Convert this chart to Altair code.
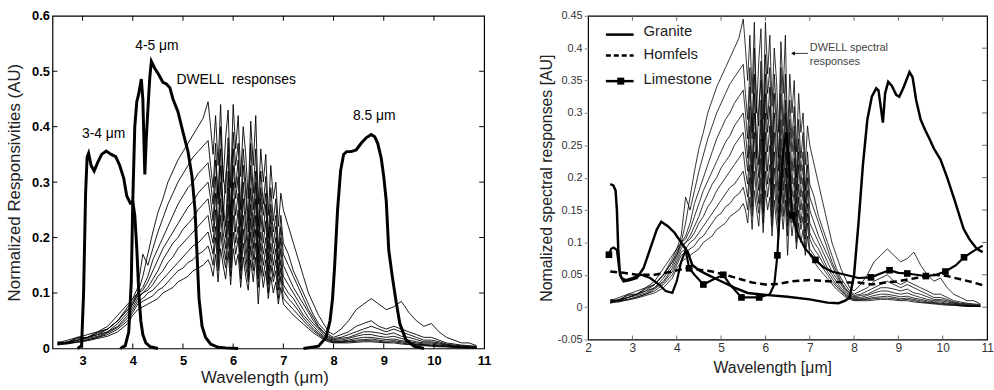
import altair as alt
import pandas as pd

FONT = "Liberation Sans"

# ---------------- DWELL spectral responses (shared by both panels) ----------------
DWELL_X = ([2.5, 2.7, 2.9, 3.1, 3.3, 3.5, 3.7, 3.9]
           + [4.0, 4.1, 4.2, 4.3, 4.4, 4.5, 4.6, 4.7, 4.8, 4.9, 5.0, 5.1, 5.2, 5.3, 5.4, 5.5]
           + [5.55, 5.6, 5.65, 5.7, 5.75, 5.8, 5.85, 5.9, 5.95, 6.0, 6.05, 6.1, 6.15, 6.2, 6.25,
              6.3, 6.35, 6.4, 6.45, 6.5, 6.55, 6.6, 6.65, 6.7, 6.75, 6.8, 6.85, 6.9, 6.95, 7.0]
           + [7.1, 7.2, 7.3, 7.4, 7.5, 7.6, 7.7, 7.8, 7.9, 8.0]
           + [8.15, 8.3, 8.45, 8.6, 8.75, 8.9, 9.05, 9.2, 9.35, 9.5, 9.65, 9.8, 9.95, 10.1,
              10.25, 10.4, 10.55, 10.7, 10.85])

DWELL_1 = ([0.01, 0.015, 0.02, 0.025, 0.03, 0.035, 0.05, 0.07]
           + [0.08, 0.1, 0.13, 0.17, 0.21, 0.245, 0.27, 0.3, 0.32, 0.34, 0.355, 0.37, 0.385, 0.4, 0.415, 0.445]
           + [0.40, 0.35, 0.42, 0.33, 0.44, 0.30, 0.38, 0.43, 0.29, 0.44, 0.36, 0.42, 0.31, 0.40, 0.35,
              0.27, 0.41, 0.33, 0.42, 0.26, 0.36, 0.30, 0.35, 0.24, 0.33, 0.27, 0.30, 0.22, 0.28, 0.25]
           + [0.22, 0.19, 0.16, 0.13, 0.10, 0.08, 0.06, 0.045, 0.03, 0.025]
           + [0.035, 0.05, 0.07, 0.08, 0.09, 0.08, 0.07, 0.075, 0.085, 0.065, 0.05, 0.04, 0.045, 0.03,
              0.02, 0.015, 0.01, 0.01, 0.005])
DWELL_2 = ([0.012, 0.01, 0.02, 0.02, 0.03, 0.04, 0.06, 0.08]
           + [0.09, 0.11, 0.17, 0.15, 0.18, 0.21, 0.235, 0.26, 0.28, 0.30, 0.315, 0.33, 0.345, 0.355, 0.365, 0.375]
           + [0.33, 0.29, 0.37, 0.26, 0.40, 0.31, 0.28, 0.38, 0.24, 0.39, 0.33, 0.37, 0.25, 0.36, 0.30,
              0.23, 0.37, 0.28, 0.36, 0.22, 0.32, 0.26, 0.31, 0.20, 0.29, 0.23, 0.27, 0.18, 0.24, 0.19]
           + [0.17, 0.14, 0.12, 0.10, 0.08, 0.06, 0.045, 0.035, 0.025, 0.02]
           + [0.025, 0.03, 0.04, 0.045, 0.05, 0.04, 0.035, 0.04, 0.035, 0.03, 0.025, 0.02, 0.02, 0.015,
              0.01, 0.008, 0.006, 0.005, 0.004])
DWELL_3 = ([0.008, 0.012, 0.018, 0.02, 0.028, 0.035, 0.05, 0.075]
           + [0.09, 0.10, 0.11, 0.13, 0.16, 0.18, 0.20, 0.22, 0.24, 0.26, 0.275, 0.29, 0.30, 0.315, 0.325, 0.335]
           + [0.30, 0.26, 0.34, 0.27, 0.36, 0.23, 0.31, 0.35, 0.22, 0.36, 0.29, 0.34, 0.22, 0.33, 0.28,
              0.21, 0.33, 0.25, 0.32, 0.20, 0.29, 0.24, 0.28, 0.18, 0.26, 0.21, 0.24, 0.16, 0.22, 0.17]
           + [0.15, 0.13, 0.11, 0.09, 0.07, 0.055, 0.04, 0.03, 0.022, 0.018]
           + [0.02, 0.025, 0.03, 0.035, 0.04, 0.035, 0.03, 0.035, 0.03, 0.025, 0.02, 0.015, 0.015, 0.012,
              0.008, 0.006, 0.005, 0.004, 0.003])
DWELL_4 = ([0.01, 0.01, 0.015, 0.02, 0.025, 0.035, 0.05, 0.07]
           + [0.085, 0.10, 0.105, 0.12, 0.14, 0.16, 0.18, 0.195, 0.21, 0.225, 0.24, 0.255, 0.265, 0.28, 0.29, 0.30]
           + [0.27, 0.23, 0.31, 0.21, 0.33, 0.26, 0.22, 0.32, 0.20, 0.33, 0.27, 0.31, 0.19, 0.30, 0.24,
              0.18, 0.29, 0.22, 0.30, 0.17, 0.27, 0.21, 0.26, 0.16, 0.24, 0.19, 0.22, 0.14, 0.20, 0.15]
           + [0.13, 0.11, 0.095, 0.08, 0.065, 0.05, 0.038, 0.028, 0.02, 0.016]
           + [0.018, 0.02, 0.025, 0.03, 0.03, 0.028, 0.025, 0.028, 0.022, 0.02, 0.016, 0.012, 0.012, 0.01,
              0.007, 0.005, 0.004, 0.003, 0.002])
DWELL_5 = ([0.008, 0.012, 0.015, 0.02, 0.025, 0.03, 0.045, 0.065]
           + [0.08, 0.095, 0.10, 0.11, 0.125, 0.14, 0.16, 0.175, 0.19, 0.20, 0.215, 0.225, 0.235, 0.25, 0.26, 0.27]
           + [0.24, 0.21, 0.28, 0.19, 0.30, 0.24, 0.20, 0.29, 0.18, 0.30, 0.24, 0.28, 0.17, 0.27, 0.22,
              0.16, 0.26, 0.20, 0.27, 0.155, 0.24, 0.19, 0.23, 0.14, 0.22, 0.17, 0.20, 0.13, 0.18, 0.13]
           + [0.115, 0.10, 0.085, 0.07, 0.055, 0.045, 0.035, 0.025, 0.018, 0.015]
           + [0.015, 0.018, 0.022, 0.025, 0.025, 0.022, 0.02, 0.022, 0.018, 0.015, 0.012, 0.01, 0.01, 0.008,
              0.006, 0.004, 0.003, 0.002, 0.002])
DWELL_6 = ([0.01, 0.01, 0.015, 0.018, 0.022, 0.03, 0.04, 0.06]
           + [0.075, 0.09, 0.10, 0.105, 0.115, 0.13, 0.14, 0.155, 0.165, 0.18, 0.19, 0.20, 0.21, 0.22, 0.23, 0.24]
           + [0.21, 0.19, 0.25, 0.17, 0.27, 0.21, 0.18, 0.26, 0.16, 0.27, 0.21, 0.25, 0.155, 0.24, 0.19,
              0.145, 0.235, 0.18, 0.24, 0.14, 0.21, 0.17, 0.20, 0.125, 0.19, 0.15, 0.18, 0.115, 0.16, 0.115]
           + [0.10, 0.09, 0.075, 0.06, 0.05, 0.04, 0.03, 0.022, 0.016, 0.013]
           + [0.013, 0.015, 0.018, 0.02, 0.02, 0.018, 0.016, 0.017, 0.014, 0.012, 0.01, 0.008, 0.008, 0.006,
              0.005, 0.003, 0.002, 0.002, 0.001])
DWELL_7 = ([0.007, 0.01, 0.012, 0.016, 0.02, 0.028, 0.038, 0.055]
           + [0.07, 0.085, 0.09, 0.10, 0.105, 0.115, 0.125, 0.135, 0.145, 0.155, 0.165, 0.175, 0.185, 0.19, 0.20, 0.21]
           + [0.19, 0.17, 0.22, 0.155, 0.24, 0.19, 0.16, 0.23, 0.145, 0.24, 0.19, 0.22, 0.14, 0.215, 0.17,
              0.13, 0.21, 0.16, 0.215, 0.125, 0.19, 0.15, 0.18, 0.115, 0.17, 0.13, 0.16, 0.105, 0.145, 0.105]
           + [0.09, 0.08, 0.068, 0.055, 0.045, 0.035, 0.027, 0.02, 0.015, 0.012]
           + [0.012, 0.013, 0.015, 0.016, 0.017, 0.015, 0.013, 0.014, 0.012, 0.01, 0.008, 0.007, 0.006, 0.005,
              0.004, 0.003, 0.002, 0.001, 0.001])
DWELL_8 = ([0.008, 0.008, 0.012, 0.015, 0.02, 0.025, 0.035, 0.05]
           + [0.065, 0.08, 0.085, 0.09, 0.095, 0.105, 0.11, 0.12, 0.13, 0.14, 0.145, 0.155, 0.16, 0.17, 0.175, 0.185]
           + [0.17, 0.15, 0.20, 0.14, 0.21, 0.17, 0.145, 0.20, 0.13, 0.21, 0.17, 0.20, 0.125, 0.19, 0.15,
              0.12, 0.185, 0.14, 0.19, 0.11, 0.17, 0.13, 0.16, 0.10, 0.15, 0.12, 0.14, 0.09, 0.13, 0.09]
           + [0.08, 0.07, 0.06, 0.05, 0.04, 0.032, 0.025, 0.018, 0.014, 0.011]
           + [0.011, 0.012, 0.013, 0.014, 0.014, 0.013, 0.011, 0.012, 0.01, 0.008, 0.007, 0.006, 0.005, 0.004,
              0.003, 0.002, 0.002, 0.001, 0.001])
DWELL_9 = ([0.006, 0.009, 0.011, 0.014, 0.018, 0.022, 0.03, 0.045]
           + [0.06, 0.07, 0.075, 0.08, 0.085, 0.09, 0.10, 0.105, 0.11, 0.12, 0.125, 0.13, 0.14, 0.145, 0.15, 0.16]
           + [0.15, 0.13, 0.17, 0.12, 0.18, 0.15, 0.125, 0.175, 0.115, 0.18, 0.15, 0.17, 0.11, 0.165, 0.13,
              0.105, 0.16, 0.12, 0.165, 0.08, 0.15, 0.11, 0.14, 0.09, 0.13, 0.10, 0.12, 0.08, 0.11, 0.08]
           + [0.07, 0.06, 0.052, 0.044, 0.036, 0.028, 0.022, 0.016, 0.012, 0.01]
           + [0.01, 0.01, 0.011, 0.012, 0.012, 0.011, 0.01, 0.01, 0.008, 0.007, 0.006, 0.005, 0.004, 0.003,
              0.003, 0.002, 0.001, 0.001, 0.001])
DWELL_CURVES = {"d1": DWELL_1, "d2": DWELL_2, "d3": DWELL_3, "d4": DWELL_4, "d5": DWELL_5,
                "d6": DWELL_6, "d7": DWELL_7, "d8": DWELL_8, "d9": DWELL_9}

# ---------------- Left panel: filter responses ----------------
F34_X = [2.9, 2.98, 3.02, 3.06, 3.09, 3.12, 3.17, 3.23, 3.3, 3.38, 3.47, 3.57, 3.66, 3.74, 3.82,
         3.88, 3.95, 4.0, 4.04, 4.08, 4.12, 4.16, 4.2, 4.26, 4.35, 4.5]
F34_Y = [0.0, 0.005, 0.1, 0.28, 0.345, 0.352, 0.33, 0.32, 0.335, 0.35, 0.356, 0.35, 0.346, 0.33, 0.307,
         0.275, 0.262, 0.265, 0.24, 0.18, 0.1, 0.05, 0.025, 0.01, 0.003, 0.0]
F45_X = [3.75, 3.85, 3.92, 3.97, 4.0, 4.04, 4.08, 4.12, 4.17, 4.2, 4.24, 4.27, 4.31, 4.34, 4.37,
         4.44, 4.51, 4.6, 4.67, 4.74, 4.8, 4.9, 5.0, 5.1, 5.18, 5.24, 5.28, 5.32, 5.38, 5.45, 5.55,
         5.7, 5.85, 6.1]
F45_Y = [0.0, 0.005, 0.03, 0.12, 0.266, 0.4, 0.445, 0.46, 0.486, 0.45, 0.314, 0.38, 0.445, 0.49, 0.518,
         0.505, 0.495, 0.48, 0.477, 0.47, 0.45, 0.427, 0.39, 0.355, 0.31, 0.25, 0.17, 0.09, 0.04, 0.02,
         0.008, 0.002, 0.001, 0.0]
F85_X = [7.4, 7.7, 7.85, 7.93, 7.98, 8.02, 8.08, 8.14, 8.2, 8.26, 8.35, 8.45, 8.55, 8.65, 8.75,
         8.82, 8.88, 8.95, 9.0, 9.05, 9.1, 9.17, 9.24, 9.32, 9.44, 9.6, 9.8]
F85_Y = [0.0, 0.004, 0.02, 0.05, 0.09, 0.146, 0.25, 0.32, 0.35, 0.355, 0.355, 0.358, 0.37, 0.38, 0.386,
         0.382, 0.37, 0.343, 0.31, 0.266, 0.177, 0.13, 0.088, 0.045, 0.016, 0.004, 0.0]

# ---------------- Right panel: rock spectra ----------------
GRANITE_X = [2.5, 2.57, 2.62, 2.65, 2.68, 2.72, 2.8, 2.95, 3.1, 3.25, 3.4, 3.55, 3.65, 3.8, 3.95,
             4.1, 4.25, 4.35, 4.5, 4.7, 5.0, 5.3, 5.6, 6.0, 6.5, 7.0, 7.4, 7.65, 7.8, 7.9, 8.0,
             8.1, 8.2, 8.3, 8.4, 8.5, 8.55, 8.6, 8.65, 8.7, 8.77, 8.85, 8.95, 9.02, 9.12, 9.25,
             9.32, 9.4, 9.5, 9.6, 9.7, 9.8, 9.95, 10.1, 10.26, 10.47, 10.6, 10.77, 10.9]
GRANITE_Y = [0.19, 0.188, 0.18, 0.15, 0.09, 0.05, 0.04, 0.042, 0.045, 0.06, 0.09, 0.12, 0.132, 0.125, 0.115,
             0.1, 0.085, 0.065, 0.057, 0.05, 0.04, 0.03, 0.022, 0.019, 0.016, 0.012, 0.007, 0.006, 0.01,
             0.015, 0.05, 0.13, 0.22, 0.29, 0.325, 0.338, 0.335, 0.31, 0.285, 0.33, 0.348, 0.342, 0.328,
             0.325, 0.34, 0.363, 0.355, 0.32, 0.29, 0.274, 0.26, 0.245, 0.228, 0.2, 0.167, 0.121, 0.105,
             0.09, 0.085]
HORNFELS_X = [2.5, 2.8, 3.1, 3.5, 3.9, 4.2, 4.5, 4.8, 5.1, 5.4, 5.7, 6.0, 6.3, 6.6, 7.0, 7.4, 7.8,
              8.1, 8.4, 8.7, 9.0, 9.4, 9.8, 10.1, 10.4, 10.7, 10.9]
HORNFELS_Y = [0.055, 0.053, 0.05, 0.05, 0.055, 0.06, 0.058, 0.055, 0.05, 0.044, 0.038, 0.035, 0.036,
              0.04, 0.042, 0.04, 0.038, 0.038, 0.035, 0.038, 0.04, 0.045, 0.05, 0.048, 0.043, 0.038, 0.034]
LIME_X = [2.47, 2.52, 2.58, 2.65, 2.7, 2.75, 2.85, 3.0, 3.2, 3.4, 3.6, 3.75, 3.9, 4.0, 4.1, 4.2, 4.28,
          4.4, 4.6, 4.8, 5.05, 5.2, 5.46, 5.86, 6.1, 6.2, 6.27, 6.32, 6.4, 6.47, 6.54, 6.6, 6.75, 6.9,
          7.13, 7.3, 7.5, 7.8, 8.1, 8.38, 8.6, 8.8, 9.0, 9.2, 9.4, 9.62, 9.85, 10.06, 10.3, 10.48,
          10.7, 10.9]
LIME_Y = [0.081, 0.09, 0.092, 0.088, 0.06, 0.045, 0.042, 0.045, 0.05, 0.045, 0.035, 0.025, 0.022, 0.04,
          0.07, 0.088, 0.06, 0.05, 0.035, 0.042, 0.05, 0.035, 0.015, 0.015, 0.02, 0.035, 0.08, 0.15,
          0.24, 0.27, 0.22, 0.142, 0.11, 0.09, 0.073, 0.062, 0.055, 0.05, 0.045, 0.046, 0.052, 0.057,
          0.053, 0.052, 0.05, 0.048, 0.05, 0.055, 0.065, 0.077, 0.087, 0.095]
LIME_MARK_X = [2.47, 4.28, 4.6, 5.05, 5.46, 5.86, 6.27, 6.6, 7.13, 8.38, 8.8, 9.2, 9.62, 10.06, 10.48]
LIME_MARK_Y = [0.081, 0.06, 0.035, 0.05, 0.015, 0.015, 0.08, 0.142, 0.073, 0.046, 0.057, 0.052, 0.048,
               0.055, 0.077]

LEFT_XTICKS = [3, 4, 5, 6, 7, 8, 9, 10, 11]
LEFT_YTICKS = [0, 0.1, 0.2, 0.3, 0.4, 0.5, 0.6]
RIGHT_XTICKS = [2, 3, 4, 5, 6, 7, 8, 9, 10, 11]
RIGHT_YTICKS = [-0.05, 0, 0.05, 0.1, 0.15, 0.2, 0.25, 0.3, 0.35, 0.4, 0.45]

# ---------------- tables ----------------
dwell_df = pd.DataFrame([{"curve": k, "x": x, "y": y}
                         for k, ys in DWELL_CURVES.items() for x, y in zip(DWELL_X, ys)])
filt_df = pd.concat([
    pd.DataFrame({"band": "3-4", "x": F34_X, "y": F34_Y}),
    pd.DataFrame({"band": "4-5", "x": F45_X, "y": F45_Y}),
    pd.DataFrame({"band": "8.5", "x": F85_X, "y": F85_Y}),
])
granite_df = pd.DataFrame({"x": GRANITE_X, "y": GRANITE_Y})
hornfels_df = pd.DataFrame({"x": HORNFELS_X, "y": HORNFELS_Y})
lime_df = pd.DataFrame({"x": LIME_X, "y": LIME_Y})
lime_mark_df = pd.DataFrame({"x": LIME_MARK_X, "y": LIME_MARK_Y})
one = pd.DataFrame({"a": [0]})

# ---------------- left panel ----------------
W1, H1 = 436, 336
xs1 = alt.Scale(domain=[2.4, 11], nice=False, zero=False)
ys1 = alt.Scale(domain=[0, 0.6], nice=False, zero=False)
xax1 = alt.Axis(values=LEFT_XTICKS, tickCount=30, format="~g", title="Wavelength (μm)", labelFont=FONT,
                labelFontSize=13, labelFontWeight="bold", labelColor="black", titleFont=FONT,
                titleFontSize=17, titleFontWeight="normal", titleColor="#222", ticks=False, domain=False,
                grid=False, labelPadding=6, titlePadding=2, labelFlush=False, labelOverlap=False, titleX=214)
yax1 = alt.Axis(values=LEFT_YTICKS, tickCount=30, title="Normalized Responsivities (AU)", format="~g",
                labelFont=FONT, labelFontSize=13, labelFontWeight="bold", labelColor="black",
                titleFont=FONT, titleFontSize=17, titleFontWeight="normal", titleColor="#222",
                ticks=False, domain=False, grid=False, labelPadding=3, titlePadding=8,
                labelFlush=False, labelOverlap=False)


def ann(text, x, y, xs, ys, size=14):
    return alt.Chart(one).mark_text(text=text, font=FONT, fontSize=size, color="black").encode(
        x=alt.X(datum=x, type="quantitative", scale=xs),
        y=alt.Y(datum=y, type="quantitative", scale=ys))


def xticks_in(vals, xs, y0, y1, color):
    return alt.Chart(pd.DataFrame({"v": vals})).mark_rule(color=color, strokeWidth=1).encode(
        x=alt.X("v:Q", scale=xs), y=alt.value(y0), y2=alt.value(y1))


def yticks_in(vals, ys, x0, x1, color):
    return alt.Chart(pd.DataFrame({"v": vals})).mark_rule(color=color, strokeWidth=1).encode(
        y=alt.Y("v:Q", scale=ys), x=alt.value(x0), x2=alt.value(x1))


left = alt.layer(
    alt.Chart(dwell_df).mark_line(color="black", strokeWidth=0.9).encode(
        x=alt.X("x:Q", scale=xs1, axis=xax1),
        y=alt.Y("y:Q", scale=ys1, axis=yax1),
        detail="curve:N"),
    alt.Chart(filt_df).mark_line(color="black", strokeWidth=3).encode(
        x=alt.X("x:Q", scale=xs1),
        y=alt.Y("y:Q", scale=ys1),
        detail="band:N"),
    ann("3-4 μm", 3.42, 0.386, xs1, ys1),
    ann("4-5 μm", 4.48, 0.546, xs1, ys1),
    ann("DWELL\u00a0\u00a0responses", 6.06, 0.484, xs1, ys1),
    ann("8.5 μm", 8.81, 0.42, xs1, ys1),
    xticks_in(LEFT_XTICKS[:-1], xs1, H1, H1 - 5, "black"),
    xticks_in(LEFT_XTICKS[:-1], xs1, 0, 5, "black"),
    yticks_in(LEFT_YTICKS[1:-1], ys1, 0, 5, "black"),
    yticks_in(LEFT_YTICKS[1:-1], ys1, W1, W1 - 5, "black"),
).properties(width=W1, height=H1)

# ---------------- right panel ----------------
W2, H2 = 403, 327
xs2 = alt.Scale(domain=[2, 11], nice=False, zero=False)
ys2 = alt.Scale(domain=[-0.05, 0.45], nice=False, zero=False)
xax2 = alt.Axis(values=RIGHT_XTICKS, tickCount=30, format="~g", title="Wavelength [μm]", labelFont=FONT,
                labelFontSize=12, labelColor="#333", titleFont=FONT, titleFontSize=16,
                titleFontWeight="normal", titleColor="#222", ticks=False, domain=False, grid=False,
                labelPadding=3, titlePadding=6, labelFlush=False, labelOverlap=False, titleX=186)
yax2 = alt.Axis(values=RIGHT_YTICKS, tickCount=30, title="Nomalized spectral responses [AU]",
                labelExpr="replace(format(datum.value, '~g'), '\u2212', '-')",
                labelFont=FONT, labelFontSize=11, labelColor="#333", titleFont=FONT, titleFontSize=16,
                titleFontWeight="normal", titleColor="#222", ticks=True, tickSize=4, tickColor="#888",
                domain=False, grid=False, labelPadding=2, titlePadding=3, labelFlush=False,
                labelOverlap=False)


def ptext(text, x, y, size, color):
    return alt.Chart(one).mark_text(text=text, font=FONT, fontSize=size, color=color, align="left",
                                    baseline="middle").encode(x=alt.value(x), y=alt.value(y))


def prule(x0, x1, y, width=2.5, dash=None):
    kw = {"color": "black", "strokeWidth": width}
    if dash:
        kw["strokeDash"] = dash
    return alt.Chart(one).mark_rule(**kw).encode(x=alt.value(x0), x2=alt.value(x1), y=alt.value(y))


right = alt.layer(
    alt.Chart(dwell_df).mark_line(color="black", strokeWidth=0.8).encode(
        x=alt.X("x:Q", scale=xs2, axis=xax2),
        y=alt.Y("y:Q", scale=ys2, axis=yax2),
        detail="curve:N"),
    alt.Chart(hornfels_df).mark_line(color="black", strokeWidth=2.5, strokeDash=[7, 4]).encode(
        x=alt.X("x:Q", scale=xs2), y=alt.Y("y:Q", scale=ys2)),
    alt.Chart(granite_df).mark_line(color="black", strokeWidth=2.5).encode(
        x=alt.X("x:Q", scale=xs2), y=alt.Y("y:Q", scale=ys2)),
    alt.Chart(lime_df).mark_line(color="black", strokeWidth=2.2).encode(
        x=alt.X("x:Q", scale=xs2), y=alt.Y("y:Q", scale=ys2)),
    alt.Chart(lime_mark_df).mark_square(color="black", size=45, opacity=1).encode(
        x=alt.X("x:Q", scale=xs2), y=alt.Y("y:Q", scale=ys2)),
    # legend
    prule(18, 46, 19),
    prule(18, 46, 40, dash=[5, 3]),
    prule(18, 46, 66),
    alt.Chart(one).mark_square(color="black", size=50, opacity=1).encode(x=alt.value(33), y=alt.value(66)),
    ptext("Granite", 56, 15, 15, "#222"),
    ptext("Homfels", 56, 39, 15, "#222"),
    ptext("Limestone", 56, 64, 15, "#222"),
    # DWELL annotation with arrow
    ptext("DWELL spectral", 224, 33, 11, "#444"),
    ptext("responses", 224, 47, 11, "#444"),
    prule(206, 222, 38, width=0.8),
    alt.Chart(one).mark_point(shape="triangle-left", filled=True, color="black", size=18, opacity=1).encode(
        x=alt.value(207), y=alt.value(38)),
    # inner ticks
    xticks_in(RIGHT_XTICKS[1:-1], xs2, 0, 5, "#666"),
    xticks_in(RIGHT_XTICKS[1:-1], xs2, H2, H2 - 4, "#666"),
    yticks_in(RIGHT_YTICKS[1:-1], ys2, W2, W2 - 5, "#666"),
).properties(width=W2, height=H2)

chart = alt.hconcat(left, right, spacing=46).properties(
    padding={"left": 5, "top": 7, "right": 0, "bottom": 0}
).configure(font=FONT).configure_view(stroke="black", strokeWidth=1.2)

chart.save("out.html", embed_options={"renderer": "svg", "actions": False})
